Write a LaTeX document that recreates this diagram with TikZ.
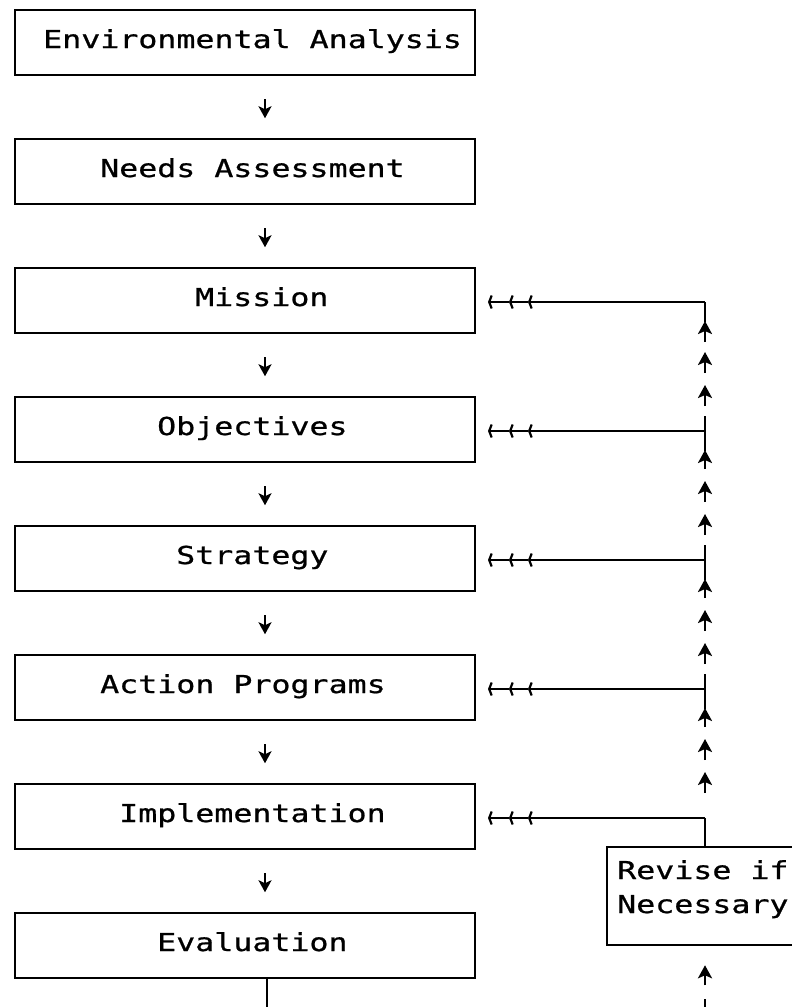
\documentclass[tikz,border=0pt]{standalone}
\usepackage{fontspec}
\newfontfamily\dm[FakeStretch=1.28,FakeBold=0.8]{DejaVu Sans Mono}
\usetikzlibrary{arrows.meta,calc}
\begin{document}
\begin{tikzpicture}[x=1pt,y=-1pt,
  box/.style={draw, line width=2.5pt, minimum width=460pt, minimum height=65pt, inner sep=0pt},
  lbl/.style={anchor=base west, inner sep=0pt, font=\dm\fontsize{24.7pt}{30pt}\selectfont},
  dn/.style={line width=2.4pt, -{Stealth[length=12pt,width=13pt,inset=3pt]}},
  up/.style={line width=2.8pt, -{Stealth[length=13pt,width=14pt,inset=3pt]}},
  fb/.style={line width=2.5pt},
  tk/.style={line width=2.2pt, -{Straight Barb[length=2.5pt,width=13pt]}}]
\useasboundingbox (0,0) rectangle (792,1007);

% main boxes
\node[box] (b1) at (245,42.5) {};
\node[box] (b2) at (245,171.5) {};
\node[box] (b3) at (245,300.5) {};
\node[box] (b4) at (245,429.5) {};
\node[box] (b5) at (245,558.5) {};
\node[box] (b6) at (245,687.5) {};
\node[box] (b7) at (245,816.5) {};
\node[box] (b8) at (245,945.5) {};

% labels
\node[lbl] (t1) at (43,48) {Environmental Analysis};
\node[lbl] (t2) at (100,177) {Needs Assessment};
\node[lbl] (t3) at (195,306) {Mission};
\node[lbl] (t4) at (157,435) {Objectives};
\node[lbl] (t5) at (176,564) {Strategy};
\node[lbl] (t6) at (100,693) {Action Programs};
\node[lbl] (t7) at (119,822) {Implementation};
\node[lbl] (t8) at (157,951) {Evaluation};

% down arrows between boxes
\foreach \i in {1,...,7}{
  \draw[dn] ($(b\i.south)+(20,23)$) -- ($(b\i.south)+(20,42)$);
}

% revise box
\node[box, minimum width=240pt, minimum height=98pt] (rev) at (727,896) {};
\node[lbl] (r1) at (617,879) {Revise if};
\node[lbl] (r2) at (617,913) {Necessary};

% feedback junctions
\coordinate (j3) at (705,302); \coordinate (f3) at (488,302);
\coordinate (j4) at (705,431); \coordinate (f4) at (488,431);
\coordinate (j5) at (705,560); \coordinate (f5) at (488,560);
\coordinate (j6) at (705,689); \coordinate (f6) at (488,689);
\coordinate (j7) at (705,818); \coordinate (f7) at (488,818);

\foreach \i in {3,...,7}{
  \draw[fb] (j\i) -- ($(f\i)+(55,0)$);
  \draw[tk] ($(f\i)+(21,0)$) -- (f\i);
  \draw[tk] ($(f\i)+(40,0)$) -- ($(f\i)+(21,0)$);
  \draw[tk] ($(f\i)+(56,0)$) -- ($(f\i)+(40,0)$);
}

% vertical return path
\draw[fb] (j3) -- ($(j3)+(0,20)$);
\draw[up] ($(j3)+(0,40)$) -- ($(j3)+(0,19)$);
\foreach \i in {4,5,6}{
  \draw[fb] ($(j\i)+(0,-15)$) -- ($(j\i)+(0,20)$);
  \draw[up] ($(j\i)+(0,38)$) -- ($(j\i)+(0,19)$);
}
\foreach \i in {3,...,6}{
  \draw[up] ($(j\i)+(0,71)$) -- ($(j\i)+(0,50)$);
  \draw[up] ($(j\i)+(0,104)$) -- ($(j\i)+(0,83)$);
}
\draw[fb] (j7) -- (j7 |- rev.north);

% below revise box
\coordinate (rb) at (rev.south -| j7);
\draw[up] ($(rb)+(0,39)$) -- ($(rb)+(0,19)$);
\draw[fb] ($(rb)+(0,53)$) -- ($(rb)+(0,70)$);

% line out of evaluation
\draw[fb] ($(b8.south)+(22,0)$) -- ($(b8.south)+(22,40)$);
\end{tikzpicture}
\end{document}
